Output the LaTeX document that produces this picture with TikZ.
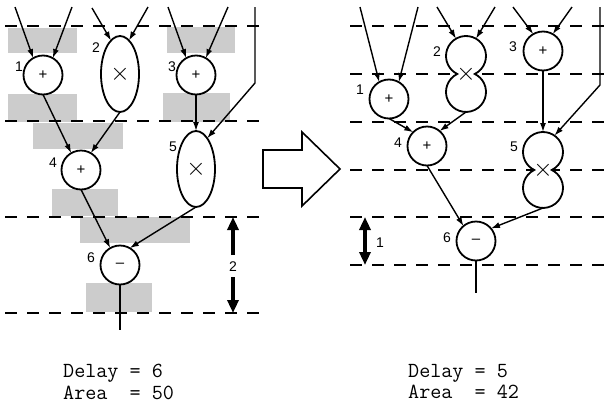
\documentclass[tikz,border=0pt]{standalone}
\usepackage{fontspec}
\setmainfont{Liberation Sans}
\usetikzlibrary{arrows.meta,shapes.geometric,calc}
\newcommand{\kereszt}{\fontsize{24}{24}\selectfont$\times$}
\tikzset{
  muv/.style={circle,draw,line width=1.8pt,fill=white,minimum size=39pt,inner sep=0pt,outer sep=0pt,font=\fontsize{15}{15}\selectfont},
  szorz/.style={ellipse,draw,line width=1.8pt,fill=white,minimum width=38pt,minimum height=76pt,inner sep=0pt,outer sep=0pt},
  karej/.style={circle,minimum size=40pt,inner sep=0pt,outer sep=0pt},
  mogy/.style={line width=1.8pt,fill=white},
  szam/.style={font=\fontsize{14}{14}\selectfont,inner sep=0pt},
  nyil/.style={line width=1.4pt,-{Latex[length=9pt,width=6pt]}},
  szagg/.style={line width=1.6pt,dash pattern=on 12pt off 10pt},
  arny/.style={fill=black!20},
  vast/.style={line width=3.2pt,-{Triangle[length=13pt,width=11pt]}},
  vastk/.style={line width=3.2pt,{Triangle[length=13pt,width=11pt]}-{Triangle[length=13pt,width=11pt]}},
  felirat/.style={font=\ttfamily\fontsize{21.5}{21.5}\selectfont,inner sep=0pt,align=left,anchor=north west},
}
\begin{document}
\begin{tikzpicture}[x=1pt,y=1pt]
  \useasboundingbox (0,0) rectangle (606,-405);
  % bal: eredeti
  \begin{scope}
    \foreach \xa/\ya/\xb/\yb in {8/28/77/53,167/27/235/53,8/94/77/122,163/93/230/122,
      33/123/123/149,52/189/118/216,80/217/190/243,86/283/152/312}
      \fill[arny] (\xa,-\ya) rectangle (\xb,-\yb);
    \foreach \y in {26,121,217,313} \draw[szagg] (5,-\y) -- (260,-\y);
    \node[muv] (a1) at (43,-75) {+};
    \node[szorz] (a2) at (120,-74) {\kereszt};
    \node[muv] (a3) at (196,-75) {+};
    \node[muv] (a4) at (81,-170) {+};
    \node[szorz] (a5) at (196,-169) {\kereszt};
    \node[muv] (a6) at (120,-265) {\textendash};
    \node[szam] (la1) at (19,-67) {1}; \node[szam] (la2) at (96,-48) {2};
    \node[szam] (la3) at (172,-67) {3}; \node[szam] (la4) at (53,-163) {4};
    \node[szam] (la5) at (173,-147) {5}; \node[szam] (la6) at (91,-258) {6};
    \coordinate (ia1) at (15,-7); \coordinate (ib1) at (72,-7);
    \coordinate (ia2) at (92,-8); \coordinate (ib2) at (148,-7);
    \coordinate (ia3) at (168,-7); \coordinate (ib3) at (228,-7);
    \coordinate (ic) at (255,-7); \coordinate (kc) at (255,-83);
    \coordinate (ki) at (120,-330);
    \draw[nyil] (ia1) -- (a1.120); \draw[nyil] (ib1) -- (a1.60);
    \draw[nyil] (ia2) -- (a2.105); \draw[nyil] (ib2) -- (a2.75);
    \draw[nyil] (ia3) -- (a3.120); \draw[nyil] (ib3) -- (a3.60);
    \draw[nyil] (ic) -- (kc) -- (a5.70);
    \draw[nyil] (a1.south) -- (a4.120); \draw[nyil] (a2.south) -- (a4.60);
    \draw[nyil] (a3.south) -- (a5.north);
    \draw[nyil] (a4.south) -- (a6.120); \draw[nyil] (a5.south) -- (a6.60);
    \draw[line width=1.4pt] (a6.south) -- (ki);
    \coordinate (ta) at (233,-217); \coordinate (tb) at (233,-313);
    \node[szam] (k2) at (233,-267) {2};
    \draw[vast] (k2) ++(0,12) -- (ta);
    \draw[vast] (k2) ++(0,-10) -- (tb);
    \node[felirat] (eb) at (63,-364) {Delay = 6\\Area\ \ = 50};
  \end{scope}
  % nyil kozepen
  \draw[line width=1.6pt,line join=miter] (263,-150) -- (302,-150) -- (302,-132) -- (340,-169)
    -- (302,-206) -- (302,-188) -- (263,-188) -- cycle;
  % jobb: atalakitott
  \begin{scope}
    \foreach \y in {26,74,122,170,217,265} \draw[szagg] (350,-\y) -- (606,-\y);
    \node[muv] (b1) at (389,-99) {+};
    \node[karej] (b2t) at (466,-56) {}; \node[karej] (b2b) at (466,-92) {};
    \draw[mogy] (b2t.-64) arc[start angle=-64,end angle=244,radius=20]
      arc[start angle=116,end angle=424,radius=20] -- cycle;
    \node[inner sep=0pt] (b2) at (466,-74) {\kereszt};
    \node[muv] (b3) at (543,-51) {+};
    \node[muv] (b4) at (427,-146) {+};
    \node[karej] (b5t) at (543,-152) {}; \node[karej] (b5b) at (543,-188) {};
    \draw[mogy] (b5t.-64) arc[start angle=-64,end angle=244,radius=20]
      arc[start angle=116,end angle=424,radius=20] -- cycle;
    \node[inner sep=0pt] (b5) at (543,-170) {\kereszt};
    \node[muv] (b6) at (476,-241) {\textendash};
    \node[szam] (lb1) at (360,-90) {1}; \node[szam] (lb2) at (437,-52) {2};
    \node[szam] (lb3) at (513,-47) {3}; \node[szam] (lb4) at (398,-143) {4};
    \node[szam] (lb5) at (514,-147) {5}; \node[szam] (lb6) at (447,-238) {6};
    \coordinate (ja1) at (360,-7); \coordinate (jb1) at (418,-7);
    \coordinate (ja2) at (437,-7); \coordinate (jb2) at (495,-7);
    \coordinate (ja3) at (513,-7); \coordinate (jb3) at (572,-7);
    \coordinate (jc) at (600,-7); \coordinate (lc) at (600,-85);
    \coordinate (li) at (476,-293);
    \draw[nyil] (ja1) -- (b1.120); \draw[nyil] (jb1) -- (b1.60);
    \draw[nyil] (ja2) -- (b2t.120); \draw[nyil] (jb2) -- (b2t.60);
    \draw[nyil] (ja3) -- (b3.120); \draw[nyil] (jb3) -- (b3.60);
    \draw[nyil] (jc) -- (lc) -- (b5t.55);
    \draw[nyil] (b1.south) -- (b4.135); \draw[nyil] (b2b.south) -- (b4.50);
    \draw[nyil] (b3.south) -- (b5t.north);
    \draw[nyil] (b4.south) -- (b6.130); \draw[nyil] (b5b.south) -- (b6.40);
    \draw[line width=1.4pt] (b6.south) -- (li);
    \coordinate (sa) at (365,-217); \coordinate (sb) at (365,-265);
    \draw[vastk] (sa) -- (sb);
    \node[szam] (k1) at (380,-243) {1};
    \node[felirat] (ej) at (408,-364) {Delay = 5\\Area\ \ = 42};
  \end{scope}
\end{tikzpicture}
\end{document}
